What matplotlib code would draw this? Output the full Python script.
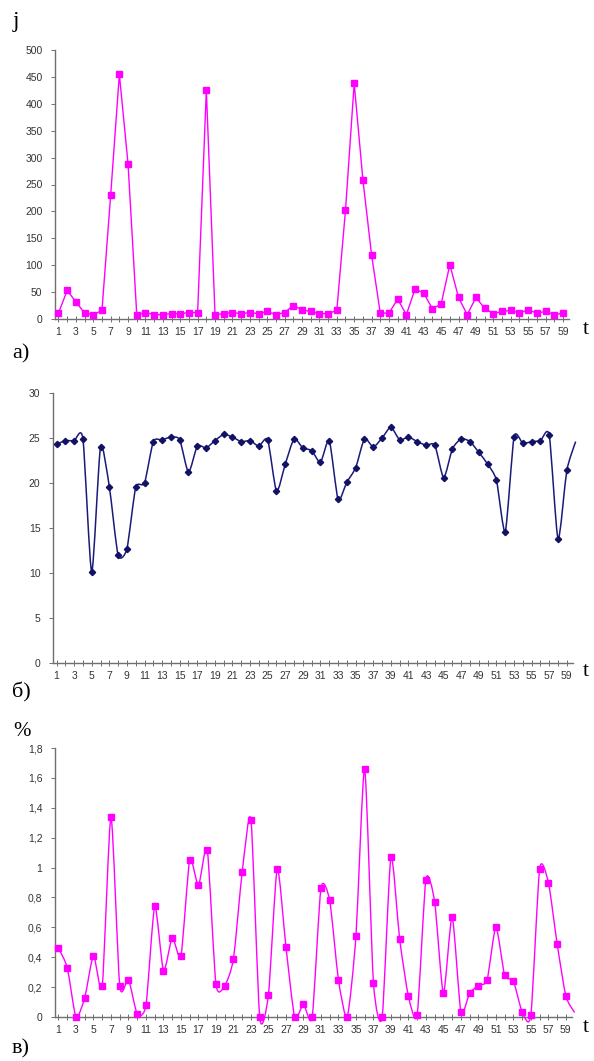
import numpy as np
import matplotlib
matplotlib.use('Agg')
import matplotlib.pyplot as plt
from matplotlib.path import Path
from matplotlib.patches import PathPatch

# panel a) j values, t = 1..59
j_vals = [11, 53, 32, 11, 8, 16, 230, 455, 288, 8,
          12, 8, 8, 10, 10, 12, 12, 426, 8, 10,
          12, 10, 12, 10, 14, 8, 12, 25, 17, 14,
          10, 10, 16, 202, 438, 259, 119, 11, 11, 37,
          8, 56, 48, 19, 28, 101, 40, 8, 40, 20,
          10, 14, 16, 11, 17, 11, 14, 8, 11]

# panel б) t = 1..60 (last point drawn without marker)
b_vals = [24.3, 24.7, 24.7, 24.9, 10.1, 24.0, 19.6, 12.0, 12.7, 19.5,
          20.0, 24.6, 24.8, 25.1, 24.8, 21.2, 24.1, 23.9, 24.7, 25.4,
          25.1, 24.6, 24.7, 24.1, 24.8, 19.1, 22.1, 24.9, 23.9, 23.6,
          22.3, 24.7, 18.2, 20.1, 21.7, 24.9, 24.0, 25.0, 26.2, 24.8,
          25.1, 24.6, 24.2, 24.2, 20.6, 23.8, 24.9, 24.6, 23.4, 22.1,
          20.3, 14.6, 25.1, 24.4, 24.6, 24.7, 25.3, 13.8, 21.4, 24.6]

# panel в) percent, t = 1..60
c_vals = [0.46, 0.33, 0.0, 0.13, 0.41, 0.21, 1.34, 0.21, 0.25, 0.02,
          0.08, 0.74, 0.31, 0.53, 0.41, 1.05, 0.88, 1.12, 0.22, 0.21,
          0.39, 0.97, 1.32, 0.0, 0.15, 0.99, 0.47, 0.0, 0.085, 0.0,
          0.86, 0.78, 0.25, 0.0, 0.54, 1.66, 0.23, 0.0, 1.07, 0.52,
          0.14, 0.015, 0.92, 0.77, 0.16, 0.67, 0.035, 0.16, 0.21, 0.25,
          0.60, 0.28, 0.24, 0.035, 0.015, 0.99, 0.90, 0.49, 0.14, 0.03]

x_labels = [str(i) for i in range(1, 60, 2)]

plt.rcParams['font.family'] = ['Liberation Sans', 'DejaVu Sans']

W, H = 594, 1061
fig = plt.figure(figsize=(W / 100, H / 100), dpi=100)


def box(left, top, right, bottom):
    return [left / W, 1 - bottom / H, (right - left) / W, (bottom - top) / H]


def smooth_path(xs, ys, k=9.0):
    # smoothed line like Excel: Bezier segments through the data points
    pts = np.column_stack([xs, ys]).astype(float)
    n = len(pts)
    verts = [pts[0]]
    codes = [Path.MOVETO]
    for i in range(n - 1):
        p0 = pts[max(i - 1, 0)]
        p1 = pts[i]
        p2 = pts[i + 1]
        p3 = pts[min(i + 2, n - 1)]
        c1 = p1 + (p2 - p0) / k
        c2 = p2 - (p3 - p1) / k
        verts += [c1, c2, p2]
        codes += [Path.CURVE4] * 3
    return Path(verts, codes)


def style_axis(ax, ymax, ystep, ylabels=None):
    for s in ['top', 'right']:
        ax.spines[s].set_visible(False)
    for s in ['left', 'bottom']:
        ax.spines[s].set_color('#707070')
        ax.spines[s].set_linewidth(1.0)
    ax.set_xlim(0.6, 59.7)
    ax.set_ylim(0, ymax)
    ax.set_xticks(range(1, 60), minor=True)
    ax.set_xticks(range(1, 60, 2))
    ax.set_xticklabels(x_labels)
    ax.tick_params(axis='x', which='both', direction='inout', length=4,
                   width=0.7, color='#707070', labelsize=7.5,
                   labelcolor='#333333', pad=4)
    yt = np.arange(0, ymax + ystep / 2, ystep)
    ax.set_yticks(yt)
    if ylabels is not None:
        ax.set_yticklabels(ylabels)
    ax.tick_params(axis='y', direction='out', length=3, width=0.7,
                   color='#707070', labelsize=7.5, labelcolor='#333333', pad=6)


# а)
ax1 = fig.add_axes(box(55, 50, 569, 319))
t_a = np.arange(1, len(j_vals) + 1)
ax1.plot(t_a, j_vals, color='#FF00FF', lw=1.0, marker='s', ms=4.2,
         mfc='#FF00FF', mec='#FF00FF', clip_on=False, zorder=3)
style_axis(ax1, 500, 50)

# б)
ax2 = fig.add_axes(box(53, 393, 573, 663))
t_b = np.arange(1, len(b_vals) + 1)
ax2.add_patch(PathPatch(smooth_path(t_b, b_vals), fill=False,
                        edgecolor='#1A1A7A', lw=1.1, clip_on=False, zorder=3))
ax2.plot(t_b[:-1], b_vals[:-1], ls='none', marker='D', ms=3.2,
         mfc='#111166', mec='#111166', clip_on=False, zorder=4)
style_axis(ax2, 30, 5)

# в)
ax3 = fig.add_axes(box(55, 748, 572, 1017))
t_c = np.arange(1, len(c_vals) + 1)
ax3.add_patch(PathPatch(smooth_path(t_c, c_vals), fill=False,
                        edgecolor='#FF00FF', lw=1.0, clip_on=False, zorder=3))
ax3.plot(t_c[:-1], c_vals[:-1], ls='none', marker='s', ms=4.3,
         mfc='#FF00FF', mec='#FF00FF', clip_on=False, zorder=4)
c_labels = ['0', '0,2', '0,4', '0,6', '0,8', '1', '1,2', '1,4', '1,6', '1,8']
style_axis(ax3, 1.8, 0.2, c_labels)

# captions and axis letters
serif = ['Liberation Serif', 'DejaVu Serif']
fig.text(13 / W, 1 - 22 / H, 'j', family=serif, fontsize=17, va='center')
fig.text(583 / W, 1 - 330 / H, 't', family=serif, fontsize=16, va='center')
fig.text(12 / W, 1 - 354 / H, 'а)', family=serif, fontsize=16, va='center')
fig.text(583 / W, 1 - 672 / H, 't', family=serif, fontsize=16, va='center')
fig.text(12 / W, 1 - 692 / H, 'б)', family=serif, fontsize=16, va='center')
fig.text(13 / W, 1 - 732 / H, '%', family=serif, fontsize=15, va='center')
fig.text(583 / W, 1 - 1028 / H, 't', family=serif, fontsize=16, va='center')
fig.text(12 / W, 1 - 1049 / H, 'в)', family=serif, fontsize=16, va='center')

fig.savefig('out.png', dpi=100, facecolor='white')
